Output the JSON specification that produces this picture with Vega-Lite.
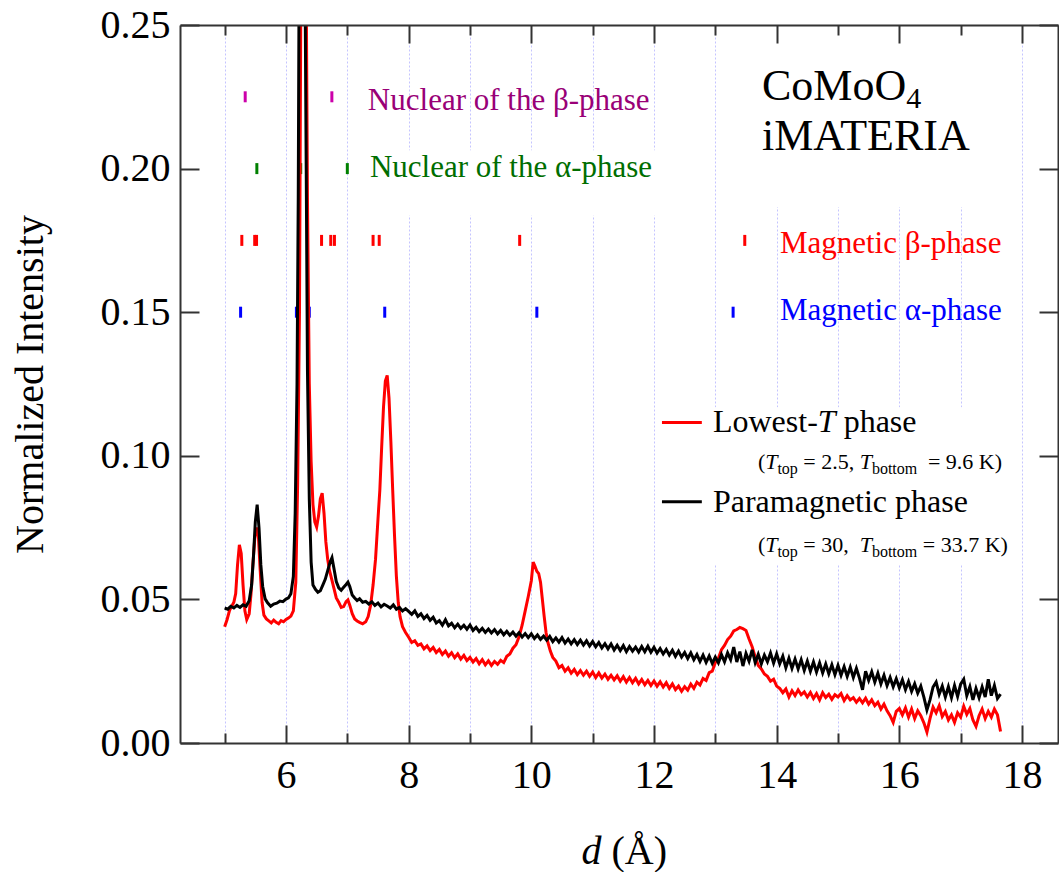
{
"$schema": "https://vega.github.io/schema/vega-lite/v6.json",
"width": 878, "height": 718,
"autosize": {"type": "none"},
"padding": {"left": 180, "top": 25, "right": 1, "bottom": 129},
"background": "white",
"config": {
  "view": {"stroke": null},
  "font": "Liberation Serif",
  "axis": {"domainColor": "#333333", "domainWidth": 2, "tickColor": "#333333", "tickWidth": 2,
    "labelFont": "Liberation Serif", "titleFont": "Liberation Serif", "labelColor": "#000000", "titleColor": "#000000",
    "labelFontSize": 40, "titleFontSize": 40, "titleFontWeight": "normal", "grid": false, "labelFlush": false, "labelOverlap": false}
},
"resolve": {"axis": {"x": "independent", "y": "independent"}, "scale": {"color": "independent"}},
"datasets": {
  "boxes": [
    {"d": 13.45, "d2": 17.75, "v": 0.1866, "v2": 0.25},
    {"d": 7.25, "d2": 12.05, "v": 0.1837, "v2": 0.2064},
    {"d": 12.1, "d2": 17.9, "v": 0.062, "v2": 0.1169}
  ],
  "bragg": [
    {"p": "nb", "d": 5.335, "v": 0.225}, {"p": "nb", "d": 6.748, "v": 0.225},
    {"p": "na", "d": 5.525, "v": 0.2}, {"p": "na", "d": 6.24, "v": 0.2}, {"p": "na", "d": 7.0, "v": 0.2},
    {"p": "mb", "d": 5.28, "v": 0.175}, {"p": "mb", "d": 5.49, "v": 0.175}, {"p": "mb", "d": 5.52, "v": 0.175},
    {"p": "mb", "d": 6.58, "v": 0.175}, {"p": "mb", "d": 6.73, "v": 0.175}, {"p": "mb", "d": 6.79, "v": 0.175},
    {"p": "mb", "d": 7.42, "v": 0.175}, {"p": "mb", "d": 7.52, "v": 0.175}, {"p": "mb", "d": 9.81, "v": 0.175},
    {"p": "mb", "d": 13.48, "v": 0.175},
    {"p": "ma", "d": 5.26, "v": 0.15}, {"p": "ma", "d": 6.17, "v": 0.15}, {"p": "ma", "d": 6.38, "v": 0.15},
    {"p": "ma", "d": 7.61, "v": 0.15}, {"p": "ma", "d": 10.09, "v": 0.15}, {"p": "ma", "d": 13.29, "v": 0.15}
  ],
  "low": [
    {"d":5.00,"v":0.0405},{"d":5.04,"v":0.0430},{"d":5.08,"v":0.0462},{"d":5.12,"v":0.0478},{"d":5.15,"v":0.0490},{"d":5.18,"v":0.0520},{"d":5.21,"v":0.0620},{"d":5.24,"v":0.0690},{"d":5.27,"v":0.0660},{"d":5.30,"v":0.0550},{"d":5.33,"v":0.0460},{"d":5.36,"v":0.0430},{"d":5.40,"v":0.0450},{"d":5.43,"v":0.0520},{"d":5.46,"v":0.0620},{"d":5.49,"v":0.0710},{"d":5.52,"v":0.0750},{"d":5.55,"v":0.0720},{"d":5.58,"v":0.0600},{"d":5.61,"v":0.0490},{"d":5.64,"v":0.0445},{"d":5.68,"v":0.0432},{"d":5.72,"v":0.0425},{"d":5.76,"v":0.0418},{"d":5.80,"v":0.0428},{"d":5.84,"v":0.0420},{"d":5.88,"v":0.0415},{"d":5.92,"v":0.0426},{"d":5.96,"v":0.0422},{"d":6.00,"v":0.0430},{"d":6.04,"v":0.0435},{"d":6.08,"v":0.0442},{"d":6.12,"v":0.0460},{"d":6.16,"v":0.0560},{"d":6.19,"v":0.0900},{"d":6.22,"v":0.1500},{"d":6.25,"v":0.3000},{"d":6.28,"v":0.5500},{"d":6.32,"v":0.3000},{"d":6.35,"v":0.1900},{"d":6.38,"v":0.1250},{"d":6.41,"v":0.0980},{"d":6.44,"v":0.0830},{"d":6.47,"v":0.0770},{"d":6.50,"v":0.0752},{"d":6.53,"v":0.0790},{"d":6.56,"v":0.0850},{"d":6.59,"v":0.0870},{"d":6.62,"v":0.0800},{"d":6.65,"v":0.0700},{"d":6.68,"v":0.0640},{"d":6.71,"v":0.0600},{"d":6.74,"v":0.0575},{"d":6.78,"v":0.0540},{"d":6.82,"v":0.0505},{"d":6.86,"v":0.0490},{"d":6.90,"v":0.0472},{"d":6.94,"v":0.0475},{"d":6.98,"v":0.0492},{"d":7.01,"v":0.0498},{"d":7.04,"v":0.0480},{"d":7.08,"v":0.0450},{"d":7.12,"v":0.0432},{"d":7.16,"v":0.0425},{"d":7.20,"v":0.0420},{"d":7.25,"v":0.0415},{"d":7.30,"v":0.0422},{"d":7.34,"v":0.0440},{"d":7.38,"v":0.0480},{"d":7.42,"v":0.0550},{"d":7.46,"v":0.0640},{"d":7.50,"v":0.0780},{"d":7.53,"v":0.0880},{"d":7.56,"v":0.1030},{"d":7.59,"v":0.1170},{"d":7.62,"v":0.1260},{"d":7.65,"v":0.1280},{"d":7.68,"v":0.1200},{"d":7.71,"v":0.1050},{"d":7.74,"v":0.0880},{"d":7.77,"v":0.0720},{"d":7.80,"v":0.0580},{"d":7.83,"v":0.0490},{"d":7.86,"v":0.0440},{"d":7.90,"v":0.0405},{"d":7.95,"v":0.0385},
    {"d":8.00,"v":0.0368},{"d":8.05,"v":0.0350},{"d":8.10,"v":0.0356},{"d":8.15,"v":0.0340},{"d":8.20,"v":0.0345},{"d":8.25,"v":0.0328},{"d":8.30,"v":0.0338},{"d":8.35,"v":0.0322},{"d":8.40,"v":0.0333},{"d":8.45,"v":0.0315},{"d":8.50,"v":0.0326},{"d":8.55,"v":0.0308},{"d":8.60,"v":0.0320},{"d":8.65,"v":0.0302},{"d":8.70,"v":0.0314},{"d":8.75,"v":0.0297},{"d":8.80,"v":0.0310},{"d":8.85,"v":0.0292},{"d":8.90,"v":0.0305},{"d":8.95,"v":0.0287},{"d":9.00,"v":0.0298},{"d":9.05,"v":0.0282},{"d":9.10,"v":0.0294},{"d":9.15,"v":0.0276},{"d":9.20,"v":0.0290},{"d":9.25,"v":0.0272},{"d":9.30,"v":0.0286},{"d":9.35,"v":0.0270},{"d":9.40,"v":0.0284},{"d":9.45,"v":0.0274},{"d":9.50,"v":0.0288},{"d":9.55,"v":0.0280},{"d":9.60,"v":0.0302},{"d":9.65,"v":0.0310},{"d":9.70,"v":0.0330},{"d":9.75,"v":0.0342},{"d":9.80,"v":0.0370},{"d":9.85,"v":0.0410},{"d":9.90,"v":0.0460},{"d":9.95,"v":0.0510},{"d":10.00,"v":0.0565},{"d":10.03,"v":0.0630},{"d":10.06,"v":0.0615},{"d":10.09,"v":0.0598},{"d":10.12,"v":0.0590},{"d":10.15,"v":0.0560},{"d":10.18,"v":0.0500},{"d":10.21,"v":0.0440},{"d":10.24,"v":0.0385},{"d":10.27,"v":0.0350},{"d":10.31,"v":0.0320},{"d":10.35,"v":0.0298},{"d":10.40,"v":0.0285},{"d":10.45,"v":0.0262},{"d":10.50,"v":0.0270},{"d":10.55,"v":0.0250},{"d":10.60,"v":0.0262},{"d":10.65,"v":0.0243},{"d":10.70,"v":0.0256},{"d":10.75,"v":0.0238},{"d":10.80,"v":0.0252},{"d":10.85,"v":0.0236},{"d":10.90,"v":0.0250},{"d":10.95,"v":0.0232},{"d":11.00,"v":0.0247},{"d":11.05,"v":0.0228},{"d":11.10,"v":0.0244},{"d":11.15,"v":0.0226},{"d":11.20,"v":0.0240},{"d":11.25,"v":0.0222},{"d":11.30,"v":0.0236},{"d":11.35,"v":0.0220},{"d":11.40,"v":0.0234},{"d":11.45,"v":0.0215},{"d":11.50,"v":0.0231},{"d":11.55,"v":0.0212},{"d":11.60,"v":0.0228},{"d":11.65,"v":0.0210},{"d":11.70,"v":0.0225},{"d":11.75,"v":0.0206},{"d":11.80,"v":0.0221},{"d":11.85,"v":0.0203},{"d":11.90,"v":0.0218},{"d":11.95,"v":0.0200},{"d":12.00,"v":0.0216},{"d":12.05,"v":0.0198},{"d":12.10,"v":0.0213},{"d":12.15,"v":0.0195},{"d":12.20,"v":0.0210},{"d":12.25,"v":0.0190},{"d":12.30,"v":0.0206},{"d":12.35,"v":0.0186},{"d":12.40,"v":0.0198},{"d":12.45,"v":0.0180},{"d":12.50,"v":0.0196},{"d":12.55,"v":0.0184},{"d":12.60,"v":0.0205},{"d":12.65,"v":0.0190},{"d":12.70,"v":0.0212},{"d":12.75,"v":0.0202},{"d":12.80,"v":0.0225},{"d":12.85,"v":0.0218},{"d":12.90,"v":0.0245},{"d":12.95,"v":0.0250},{"d":13.00,"v":0.0280},{"d":13.05,"v":0.0295},{"d":13.10,"v":0.0325},{"d":13.15,"v":0.0340},{"d":13.20,"v":0.0360},{"d":13.25,"v":0.0372},{"d":13.30,"v":0.0390},{"d":13.35,"v":0.0395},{"d":13.40,"v":0.0402},{"d":13.45,"v":0.0398},{"d":13.50,"v":0.0392},{"d":13.55,"v":0.0362},{"d":13.60,"v":0.0335},{"d":13.65,"v":0.0300},{"d":13.70,"v":0.0270},{"d":13.75,"v":0.0258},{"d":13.80,"v":0.0240},{"d":13.85,"v":0.0232},{"d":13.90,"v":0.0215},{"d":13.95,"v":0.0222},{"d":14.00,"v":0.0198},{"d":14.05,"v":0.0190},{"d":14.10,"v":0.0175},{"d":14.15,"v":0.0188},{"d":14.20,"v":0.0160},{"d":14.25,"v":0.0182},{"d":14.30,"v":0.0165},{"d":14.35,"v":0.0185},{"d":14.40,"v":0.0168},{"d":14.45,"v":0.0178},{"d":14.50,"v":0.0160},{"d":14.55,"v":0.0176},{"d":14.60,"v":0.0155},{"d":14.65,"v":0.0172},{"d":14.70,"v":0.0150},{"d":14.75,"v":0.0175},{"d":14.80,"v":0.0158},{"d":14.85,"v":0.0170},{"d":14.90,"v":0.0152},{"d":14.95,"v":0.0168},{"d":15.00,"v":0.0160},{"d":15.05,"v":0.0172},{"d":15.10,"v":0.0148},{"d":15.15,"v":0.0165},{"d":15.20,"v":0.0150},{"d":15.25,"v":0.0158},{"d":15.30,"v":0.0142},{"d":15.35,"v":0.0155},{"d":15.40,"v":0.0140},{"d":15.45,"v":0.0156},{"d":15.50,"v":0.0135},{"d":15.55,"v":0.0150},{"d":15.60,"v":0.0130},{"d":15.65,"v":0.0142},{"d":15.70,"v":0.0118},{"d":15.75,"v":0.0135},{"d":15.80,"v":0.0112},{"d":15.85,"v":0.0095},{"d":15.90,"v":0.0072},{"d":15.95,"v":0.0110},{"d":16.00,"v":0.0120},{"d":16.05,"v":0.0098},{"d":16.10,"v":0.0122},{"d":16.15,"v":0.0090},{"d":16.20,"v":0.0118},{"d":16.25,"v":0.0085},{"d":16.30,"v":0.0112},{"d":16.35,"v":0.0095},{"d":16.40,"v":0.0070},{"d":16.45,"v":0.0038},{"d":16.50,"v":0.0085},{"d":16.55,"v":0.0125},{"d":16.60,"v":0.0105},{"d":16.65,"v":0.0130},{"d":16.70,"v":0.0092},{"d":16.75,"v":0.0110},{"d":16.80,"v":0.0080},{"d":16.85,"v":0.0098},{"d":16.90,"v":0.0072},{"d":16.95,"v":0.0105},{"d":17.00,"v":0.0090},{"d":17.05,"v":0.0128},{"d":17.10,"v":0.0100},{"d":17.15,"v":0.0120},{"d":17.20,"v":0.0080},{"d":17.25,"v":0.0058},{"d":17.30,"v":0.0095},{"d":17.35,"v":0.0118},{"d":17.40,"v":0.0085},{"d":17.45,"v":0.0110},{"d":17.50,"v":0.0090},{"d":17.55,"v":0.0118},{"d":17.60,"v":0.0098},{"d":17.65,"v":0.0040}
  ],
  "para": [
    {"d":5.00,"v":0.0470},{"d":5.05,"v":0.0466},{"d":5.10,"v":0.0476},{"d":5.15,"v":0.0470},{"d":5.20,"v":0.0479},{"d":5.25,"v":0.0472},{"d":5.30,"v":0.0481},{"d":5.35,"v":0.0476},{"d":5.40,"v":0.0495},{"d":5.44,"v":0.0550},{"d":5.47,"v":0.0650},{"d":5.50,"v":0.0770},{"d":5.53,"v":0.0830},{"d":5.56,"v":0.0750},{"d":5.59,"v":0.0620},{"d":5.62,"v":0.0545},{"d":5.66,"v":0.0502},{"d":5.70,"v":0.0488},{"d":5.75,"v":0.0476},{"d":5.80,"v":0.0484},{"d":5.85,"v":0.0487},{"d":5.90,"v":0.0494},{"d":5.95,"v":0.0492},{"d":6.00,"v":0.0501},{"d":6.04,"v":0.0505},{"d":6.08,"v":0.0520},{"d":6.12,"v":0.0580},{"d":6.15,"v":0.0800},{"d":6.18,"v":0.1250},{"d":6.20,"v":0.1900},{"d":6.22,"v":0.3000},{"d":6.26,"v":0.6000},{"d":6.30,"v":0.3000},{"d":6.33,"v":0.2000},{"d":6.35,"v":0.1300},{"d":6.38,"v":0.0850},{"d":6.41,"v":0.0630},{"d":6.44,"v":0.0550},{"d":6.48,"v":0.0535},{"d":6.52,"v":0.0525},{"d":6.56,"v":0.0530},{"d":6.60,"v":0.0550},{"d":6.64,"v":0.0570},{"d":6.68,"v":0.0600},{"d":6.72,"v":0.0630},{"d":6.75,"v":0.0645},{"d":6.78,"v":0.0610},{"d":6.82,"v":0.0562},{"d":6.86,"v":0.0540},{"d":6.90,"v":0.0532},{"d":6.94,"v":0.0542},{"d":6.98,"v":0.0552},{"d":7.01,"v":0.0560},{"d":7.04,"v":0.0545},{"d":7.08,"v":0.0515},{"d":7.12,"v":0.0505},{"d":7.16,"v":0.0496},{"d":7.20,"v":0.0502},{"d":7.25,"v":0.0490},{"d":7.30,"v":0.0493},{"d":7.35,"v":0.0484},{"d":7.40,"v":0.0492},{"d":7.45,"v":0.0479},{"d":7.50,"v":0.0487},{"d":7.55,"v":0.0474},{"d":7.60,"v":0.0483},{"d":7.65,"v":0.0477},{"d":7.70,"v":0.0470},{"d":7.75,"v":0.0481},{"d":7.80,"v":0.0466},{"d":7.85,"v":0.0472},{"d":7.90,"v":0.0460},{"d":7.95,"v":0.0468},
    {"d":8.00,"v":0.0458},{"d":8.05,"v":0.0448},{"d":8.10,"v":0.0460},{"d":8.15,"v":0.0441},{"d":8.20,"v":0.0450},{"d":8.25,"v":0.0433},{"d":8.30,"v":0.0444},{"d":8.35,"v":0.0427},{"d":8.40,"v":0.0438},{"d":8.45,"v":0.0418},{"d":8.50,"v":0.0426},{"d":8.55,"v":0.0410},{"d":8.60,"v":0.0429},{"d":8.65,"v":0.0408},{"d":8.70,"v":0.0417},{"d":8.75,"v":0.0401},{"d":8.80,"v":0.0414},{"d":8.85,"v":0.0399},{"d":8.90,"v":0.0410},{"d":8.95,"v":0.0396},{"d":9.00,"v":0.0411},{"d":9.05,"v":0.0392},{"d":9.10,"v":0.0403},{"d":9.15,"v":0.0388},{"d":9.20,"v":0.0399},{"d":9.25,"v":0.0385},{"d":9.30,"v":0.0397},{"d":9.35,"v":0.0383},{"d":9.40,"v":0.0395},{"d":9.45,"v":0.0380},{"d":9.50,"v":0.0392},{"d":9.55,"v":0.0377},{"d":9.60,"v":0.0389},{"d":9.65,"v":0.0375},{"d":9.70,"v":0.0386},{"d":9.75,"v":0.0372},{"d":9.80,"v":0.0384},{"d":9.85,"v":0.0369},{"d":9.90,"v":0.0381},{"d":9.95,"v":0.0367},{"d":10.00,"v":0.0380},{"d":10.05,"v":0.0364},{"d":10.10,"v":0.0376},{"d":10.15,"v":0.0361},{"d":10.20,"v":0.0372},{"d":10.25,"v":0.0358},{"d":10.30,"v":0.0371},{"d":10.35,"v":0.0353},{"d":10.40,"v":0.0366},{"d":10.45,"v":0.0351},{"d":10.50,"v":0.0367},{"d":10.55,"v":0.0348},{"d":10.60,"v":0.0362},{"d":10.65,"v":0.0345},{"d":10.70,"v":0.0360},{"d":10.75,"v":0.0343},{"d":10.80,"v":0.0358},{"d":10.85,"v":0.0341},{"d":10.90,"v":0.0356},{"d":10.95,"v":0.0338},{"d":11.00,"v":0.0353},{"d":11.05,"v":0.0335},{"d":11.10,"v":0.0350},{"d":11.15,"v":0.0331},{"d":11.20,"v":0.0346},{"d":11.25,"v":0.0328},{"d":11.30,"v":0.0345},{"d":11.35,"v":0.0324},{"d":11.40,"v":0.0340},{"d":11.45,"v":0.0322},{"d":11.50,"v":0.0339},{"d":11.55,"v":0.0318},{"d":11.60,"v":0.0336},{"d":11.65,"v":0.0320},{"d":11.70,"v":0.0334},{"d":11.75,"v":0.0317},{"d":11.80,"v":0.0336},{"d":11.85,"v":0.0318},{"d":11.90,"v":0.0337},{"d":11.95,"v":0.0316},{"d":12.00,"v":0.0333},{"d":12.05,"v":0.0313},{"d":12.10,"v":0.0329},{"d":12.15,"v":0.0310},{"d":12.20,"v":0.0326},{"d":12.25,"v":0.0306},{"d":12.30,"v":0.0323},{"d":12.35,"v":0.0302},{"d":12.40,"v":0.0320},{"d":12.45,"v":0.0299},{"d":12.50,"v":0.0315},{"d":12.55,"v":0.0294},{"d":12.60,"v":0.0314},{"d":12.65,"v":0.0290},{"d":12.70,"v":0.0308},{"d":12.75,"v":0.0284},{"d":12.80,"v":0.0306},{"d":12.85,"v":0.0281},{"d":12.90,"v":0.0303},{"d":12.95,"v":0.0277},{"d":13.00,"v":0.0299},{"d":13.05,"v":0.0279},{"d":13.10,"v":0.0308},{"d":13.15,"v":0.0283},{"d":13.20,"v":0.0314},{"d":13.25,"v":0.0290},{"d":13.30,"v":0.0334},{"d":13.35,"v":0.0282},{"d":13.40,"v":0.0318},{"d":13.45,"v":0.0268},{"d":13.50,"v":0.0312},{"d":13.55,"v":0.0285},{"d":13.60,"v":0.0324},{"d":13.65,"v":0.0280},{"d":13.70,"v":0.0309},{"d":13.75,"v":0.0276},{"d":13.80,"v":0.0306},{"d":13.85,"v":0.0283},{"d":13.90,"v":0.0313},{"d":13.95,"v":0.0278},{"d":14.00,"v":0.0310},{"d":14.05,"v":0.0276},{"d":14.10,"v":0.0302},{"d":14.15,"v":0.0262},{"d":14.20,"v":0.0295},{"d":14.25,"v":0.0260},{"d":14.30,"v":0.0292},{"d":14.35,"v":0.0258},{"d":14.40,"v":0.0290},{"d":14.45,"v":0.0253},{"d":14.50,"v":0.0285},{"d":14.55,"v":0.0250},{"d":14.60,"v":0.0282},{"d":14.65,"v":0.0247},{"d":14.70,"v":0.0279},{"d":14.75,"v":0.0244},{"d":14.80,"v":0.0275},{"d":14.85,"v":0.0241},{"d":14.90,"v":0.0272},{"d":14.95,"v":0.0238},{"d":15.00,"v":0.0270},{"d":15.05,"v":0.0236},{"d":15.10,"v":0.0266},{"d":15.15,"v":0.0232},{"d":15.20,"v":0.0264},{"d":15.25,"v":0.0228},{"d":15.30,"v":0.0260},{"d":15.35,"v":0.0226},{"d":15.40,"v":0.0185},{"d":15.45,"v":0.0250},{"d":15.50,"v":0.0218},{"d":15.55,"v":0.0248},{"d":15.60,"v":0.0212},{"d":15.65,"v":0.0243},{"d":15.70,"v":0.0206},{"d":15.75,"v":0.0236},{"d":15.80,"v":0.0200},{"d":15.85,"v":0.0228},{"d":15.90,"v":0.0196},{"d":15.95,"v":0.0224},{"d":16.00,"v":0.0192},{"d":16.05,"v":0.0220},{"d":16.10,"v":0.0186},{"d":16.15,"v":0.0214},{"d":16.20,"v":0.0180},{"d":16.25,"v":0.0206},{"d":16.30,"v":0.0174},{"d":16.35,"v":0.0198},{"d":16.40,"v":0.0160},{"d":16.45,"v":0.0115},{"d":16.50,"v":0.0150},{"d":16.55,"v":0.0195},{"d":16.60,"v":0.0212},{"d":16.65,"v":0.0170},{"d":16.70,"v":0.0198},{"d":16.75,"v":0.0160},{"d":16.80,"v":0.0196},{"d":16.85,"v":0.0158},{"d":16.90,"v":0.0200},{"d":16.95,"v":0.0162},{"d":17.00,"v":0.0205},{"d":17.05,"v":0.0222},{"d":17.10,"v":0.0165},{"d":17.15,"v":0.0196},{"d":17.20,"v":0.0150},{"d":17.25,"v":0.0190},{"d":17.30,"v":0.0158},{"d":17.35,"v":0.0195},{"d":17.40,"v":0.0160},{"d":17.45,"v":0.0222},{"d":17.50,"v":0.0165},{"d":17.55,"v":0.0200},{"d":17.60,"v":0.0155},{"d":17.65,"v":0.0170}
  ],
  "legRed": [{"d": 12.13, "d2": 12.78, "v": 0.1116}],
  "legBlack": [{"d": 12.13, "d2": 12.78, "v": 0.084}],
  "phaseLabels": [
    {"g": "nb", "t": "Nuclear of the β-phase", "d": 7.335, "v": 0.2203},
    {"g": "na", "t": "Nuclear of the α-phase", "d": 7.368, "v": 0.197},
    {"g": "mb", "t": "Magnetic β-phase", "d": 14.053, "v": 0.1705},
    {"g": "ma", "t": "Magnetic α-phase", "d": 14.053, "v": 0.1472}
  ],
  "legendText": [
    {"t": "Lowest-", "d": 12.961, "v": 0.1082},
    {"t": "phase", "d": 15.092, "v": 0.1082},
    {"t": "Paramagnetic phase", "d": 12.961, "v": 0.0804}
  ],
  "legendItalic": [{"t": "T", "d": 14.671, "v": 0.1082}],
  "compound": [
    {"t": "CoMoO", "d": 13.76, "v": 0.2238},
    {"t": "iMATERIA", "d": 13.76, "v": 0.2064}
  ],
  "compoundSub": [{"t": "4", "d": 16.111, "v": 0.221}],
  "parenText": [
    {"t": "(", "d": 13.694, "v": 0.0954},
    {"t": "= 2.5,", "d": 14.435, "v": 0.0954},
    {"t": "= 9.6 K)", "d": 16.466, "v": 0.0954},
    {"t": "(", "d": 13.694, "v": 0.0665},
    {"t": "= 30,", "d": 14.435, "v": 0.0665},
    {"t": "= 33.7 K)", "d": 16.382, "v": 0.0665}
  ],
  "parenItalic": [
    {"t": "T", "d": 13.813, "v": 0.0954},
    {"t": "T", "d": 15.354, "v": 0.0954},
    {"t": "T", "d": 13.813, "v": 0.0665},
    {"t": "T", "d": 15.354, "v": 0.0665}
  ],
  "parenSub": [
    {"t": "top", "d": 14.012, "v": 0.0937},
    {"t": "bottom", "d": 15.553, "v": 0.0937},
    {"t": "top", "d": 14.012, "v": 0.0648},
    {"t": "bottom", "d": 15.553, "v": 0.0648}
  ]
},
"layer": [
  {
    "data": {"name": "boxes"},
    "mark": {"type": "rect", "color": "white"},
    "encoding": {
      "x": {"field": "d", "type": "quantitative", "scale": {"domain": [4.272, 18.587], "nice": false, "zero": false},
        "axis": {"orient": "bottom", "values": [5,6,7,8,9,10,11,12,13,14,15,16,17,18], "grid": true, "gridColor": "#c4c4ff", "gridDash": [2, 2], "gridWidth": 1, "ticks": false, "labels": false, "domain": false, "title": null, "zindex": 0}},
      "x2": {"field": "d2"},
      "y": {"field": "v", "type": "quantitative", "scale": {"domain": [0, 0.25], "nice": false, "zero": false}, "axis": null},
      "y2": {"field": "v2"}
    }
  },
  {
    "data": {"name": "bragg"},
    "mark": {"type": "tick", "orient": "vertical", "size": 11, "thickness": 3, "opacity": 1},
    "encoding": {
      "x": {"field": "d", "type": "quantitative", "scale": {"domain": [4.272, 18.587], "nice": false, "zero": false},
        "axis": {"orient": "bottom", "values": [5,7,9,11,13,15,17], "tickSize": -10, "labels": false, "domain": false, "title": "d", "titleFontStyle": "italic", "titleX": 401, "titleY": 120, "titleAlign": "left", "titleBaseline": "alphabetic", "zindex": 1}},
      "y": {"field": "v", "type": "quantitative", "scale": {"domain": [0, 0.25], "nice": false, "zero": false},
        "axis": {"orient": "left", "values": [0, 0.05, 0.1, 0.15, 0.2, 0.25], "tickSize": -19, "labels": false, "domain": false, "title": null, "zindex": 1}},
      "color": {"field": "p", "type": "nominal", "scale": {"domain": ["nb", "na", "mb", "ma"], "range": ["#cc00aa", "#008000", "#ff0000", "#0000ff"]}, "legend": null}
    }
  },
  {
    "data": {"name": "low"},
    "mark": {"type": "line", "color": "#ff0000", "strokeWidth": 3, "clip": true},
    "encoding": {
      "x": {"field": "d", "type": "quantitative", "scale": {"domain": [4.272, 18.587], "nice": false, "zero": false},
        "axis": {"orient": "bottom", "values": [6,8,10,12,14,16,18], "ticks": false, "labelPadding": 12, "domain": true, "title": "(Å)", "titleX": 431, "titleY": 120, "titleAlign": "left", "titleBaseline": "alphabetic", "zindex": 1}},
      "y": {"field": "v", "type": "quantitative", "scale": {"domain": [0, 0.25], "nice": false, "zero": false},
        "axis": {"orient": "left", "values": [0, 0.05, 0.1, 0.15, 0.2, 0.25], "format": ".2f", "ticks": false, "labelPadding": 10, "domain": true, "title": "Normalized Intensity", "titleX": -150, "titleY": 359, "titleAngle": -90, "titleAlign": "center", "titleBaseline": "middle", "zindex": 1}}
    }
  },
  {
    "data": {"name": "para"},
    "mark": {"type": "line", "color": "#000000", "strokeWidth": 3, "clip": true},
    "encoding": {
      "x": {"field": "d", "type": "quantitative", "scale": {"domain": [4.272, 18.587], "nice": false, "zero": false},
        "axis": {"orient": "bottom", "values": [6,8,10,12,14,16,18], "tickSize": -18, "labels": false, "domain": false, "title": null, "zindex": 1}},
      "y": {"field": "v", "type": "quantitative", "scale": {"domain": [0, 0.25], "nice": false, "zero": false},
        "axis": {"orient": "right", "values": [0, 0.05, 0.1, 0.15, 0.2, 0.25], "tickSize": -19, "labels": false, "domain": true, "title": null, "zindex": 1}}
    }
  },
  {
    "data": {"name": "legRed"},
    "mark": {"type": "rule", "color": "#ff0000", "strokeWidth": 3},
    "encoding": {
      "x": {"field": "d", "type": "quantitative", "scale": {"domain": [4.272, 18.587], "nice": false, "zero": false},
        "axis": {"orient": "top", "values": [6,8,10,12,14,16,18], "tickSize": -18, "labels": false, "domain": true, "title": null, "zindex": 1}},
      "x2": {"field": "d2"},
      "y": {"field": "v", "type": "quantitative", "scale": {"domain": [0, 0.25], "nice": false, "zero": false}, "axis": null}
    }
  },
  {
    "data": {"name": "legBlack"},
    "mark": {"type": "rule", "color": "#000000", "strokeWidth": 3},
    "encoding": {
      "x": {"field": "d", "type": "quantitative", "scale": {"domain": [4.272, 18.587], "nice": false, "zero": false},
        "axis": {"orient": "top", "values": [5,7,9,11,13,15,17], "tickSize": -10, "labels": false, "domain": false, "title": null, "zindex": 1}},
      "x2": {"field": "d2"},
      "y": {"field": "v", "type": "quantitative", "scale": {"domain": [0, 0.25], "nice": false, "zero": false}, "axis": null}
    }
  },
  {
    "data": {"name": "phaseLabels"},
    "mark": {"type": "text", "font": "Liberation Serif", "fontSize": 31, "align": "left", "baseline": "alphabetic"},
    "encoding": {
      "x": {"field": "d", "type": "quantitative", "scale": {"domain": [4.272, 18.587], "nice": false, "zero": false}, "axis": null},
      "y": {"field": "v", "type": "quantitative", "scale": {"domain": [0, 0.25], "nice": false, "zero": false}, "axis": null},
      "text": {"field": "t"},
      "color": {"field": "g", "type": "nominal", "scale": {"domain": ["nb", "na", "mb", "ma"], "range": ["#990077", "#006e00", "#ff0000", "#0000ff"]}, "legend": null}
    }
  },
  {
    "data": {"name": "legendText"},
    "mark": {"type": "text", "font": "Liberation Serif", "fontSize": 32, "align": "left", "baseline": "alphabetic", "color": "#000000"},
    "encoding": {
      "x": {"field": "d", "type": "quantitative", "scale": {"domain": [4.272, 18.587], "nice": false, "zero": false}, "axis": null},
      "y": {"field": "v", "type": "quantitative", "scale": {"domain": [0, 0.25], "nice": false, "zero": false}, "axis": null},
      "text": {"field": "t"}
    }
  },
  {
    "data": {"name": "legendItalic"},
    "mark": {"type": "text", "font": "Liberation Serif", "fontSize": 32, "fontStyle": "italic", "align": "left", "baseline": "alphabetic", "color": "#000000"},
    "encoding": {
      "x": {"field": "d", "type": "quantitative", "scale": {"domain": [4.272, 18.587], "nice": false, "zero": false}, "axis": null},
      "y": {"field": "v", "type": "quantitative", "scale": {"domain": [0, 0.25], "nice": false, "zero": false}, "axis": null},
      "text": {"field": "t"}
    }
  },
  {
    "data": {"name": "compound"},
    "mark": {"type": "text", "font": "Liberation Serif", "fontSize": 44, "align": "left", "baseline": "alphabetic", "color": "#000000"},
    "encoding": {
      "x": {"field": "d", "type": "quantitative", "scale": {"domain": [4.272, 18.587], "nice": false, "zero": false}, "axis": null},
      "y": {"field": "v", "type": "quantitative", "scale": {"domain": [0, 0.25], "nice": false, "zero": false}, "axis": null},
      "text": {"field": "t"}
    }
  },
  {
    "data": {"name": "compoundSub"},
    "mark": {"type": "text", "font": "Liberation Serif", "fontSize": 30, "align": "left", "baseline": "alphabetic", "color": "#000000"},
    "encoding": {
      "x": {"field": "d", "type": "quantitative", "scale": {"domain": [4.272, 18.587], "nice": false, "zero": false}, "axis": null},
      "y": {"field": "v", "type": "quantitative", "scale": {"domain": [0, 0.25], "nice": false, "zero": false}, "axis": null},
      "text": {"field": "t"}
    }
  },
  {
    "data": {"name": "parenText"},
    "mark": {"type": "text", "font": "Liberation Serif", "fontSize": 22, "align": "left", "baseline": "alphabetic", "color": "#000000"},
    "encoding": {
      "x": {"field": "d", "type": "quantitative", "scale": {"domain": [4.272, 18.587], "nice": false, "zero": false}, "axis": null},
      "y": {"field": "v", "type": "quantitative", "scale": {"domain": [0, 0.25], "nice": false, "zero": false}, "axis": null},
      "text": {"field": "t"}
    }
  },
  {
    "data": {"name": "parenItalic"},
    "mark": {"type": "text", "font": "Liberation Serif", "fontSize": 22, "fontStyle": "italic", "align": "left", "baseline": "alphabetic", "color": "#000000"},
    "encoding": {
      "x": {"field": "d", "type": "quantitative", "scale": {"domain": [4.272, 18.587], "nice": false, "zero": false}, "axis": null},
      "y": {"field": "v", "type": "quantitative", "scale": {"domain": [0, 0.25], "nice": false, "zero": false}, "axis": null},
      "text": {"field": "t"}
    }
  },
  {
    "data": {"name": "parenSub"},
    "mark": {"type": "text", "font": "Liberation Serif", "fontSize": 16, "align": "left", "baseline": "alphabetic", "color": "#000000"},
    "encoding": {
      "x": {"field": "d", "type": "quantitative", "scale": {"domain": [4.272, 18.587], "nice": false, "zero": false}, "axis": null},
      "y": {"field": "v", "type": "quantitative", "scale": {"domain": [0, 0.25], "nice": false, "zero": false}, "axis": null},
      "text": {"field": "t"}
    }
  }
]
}
